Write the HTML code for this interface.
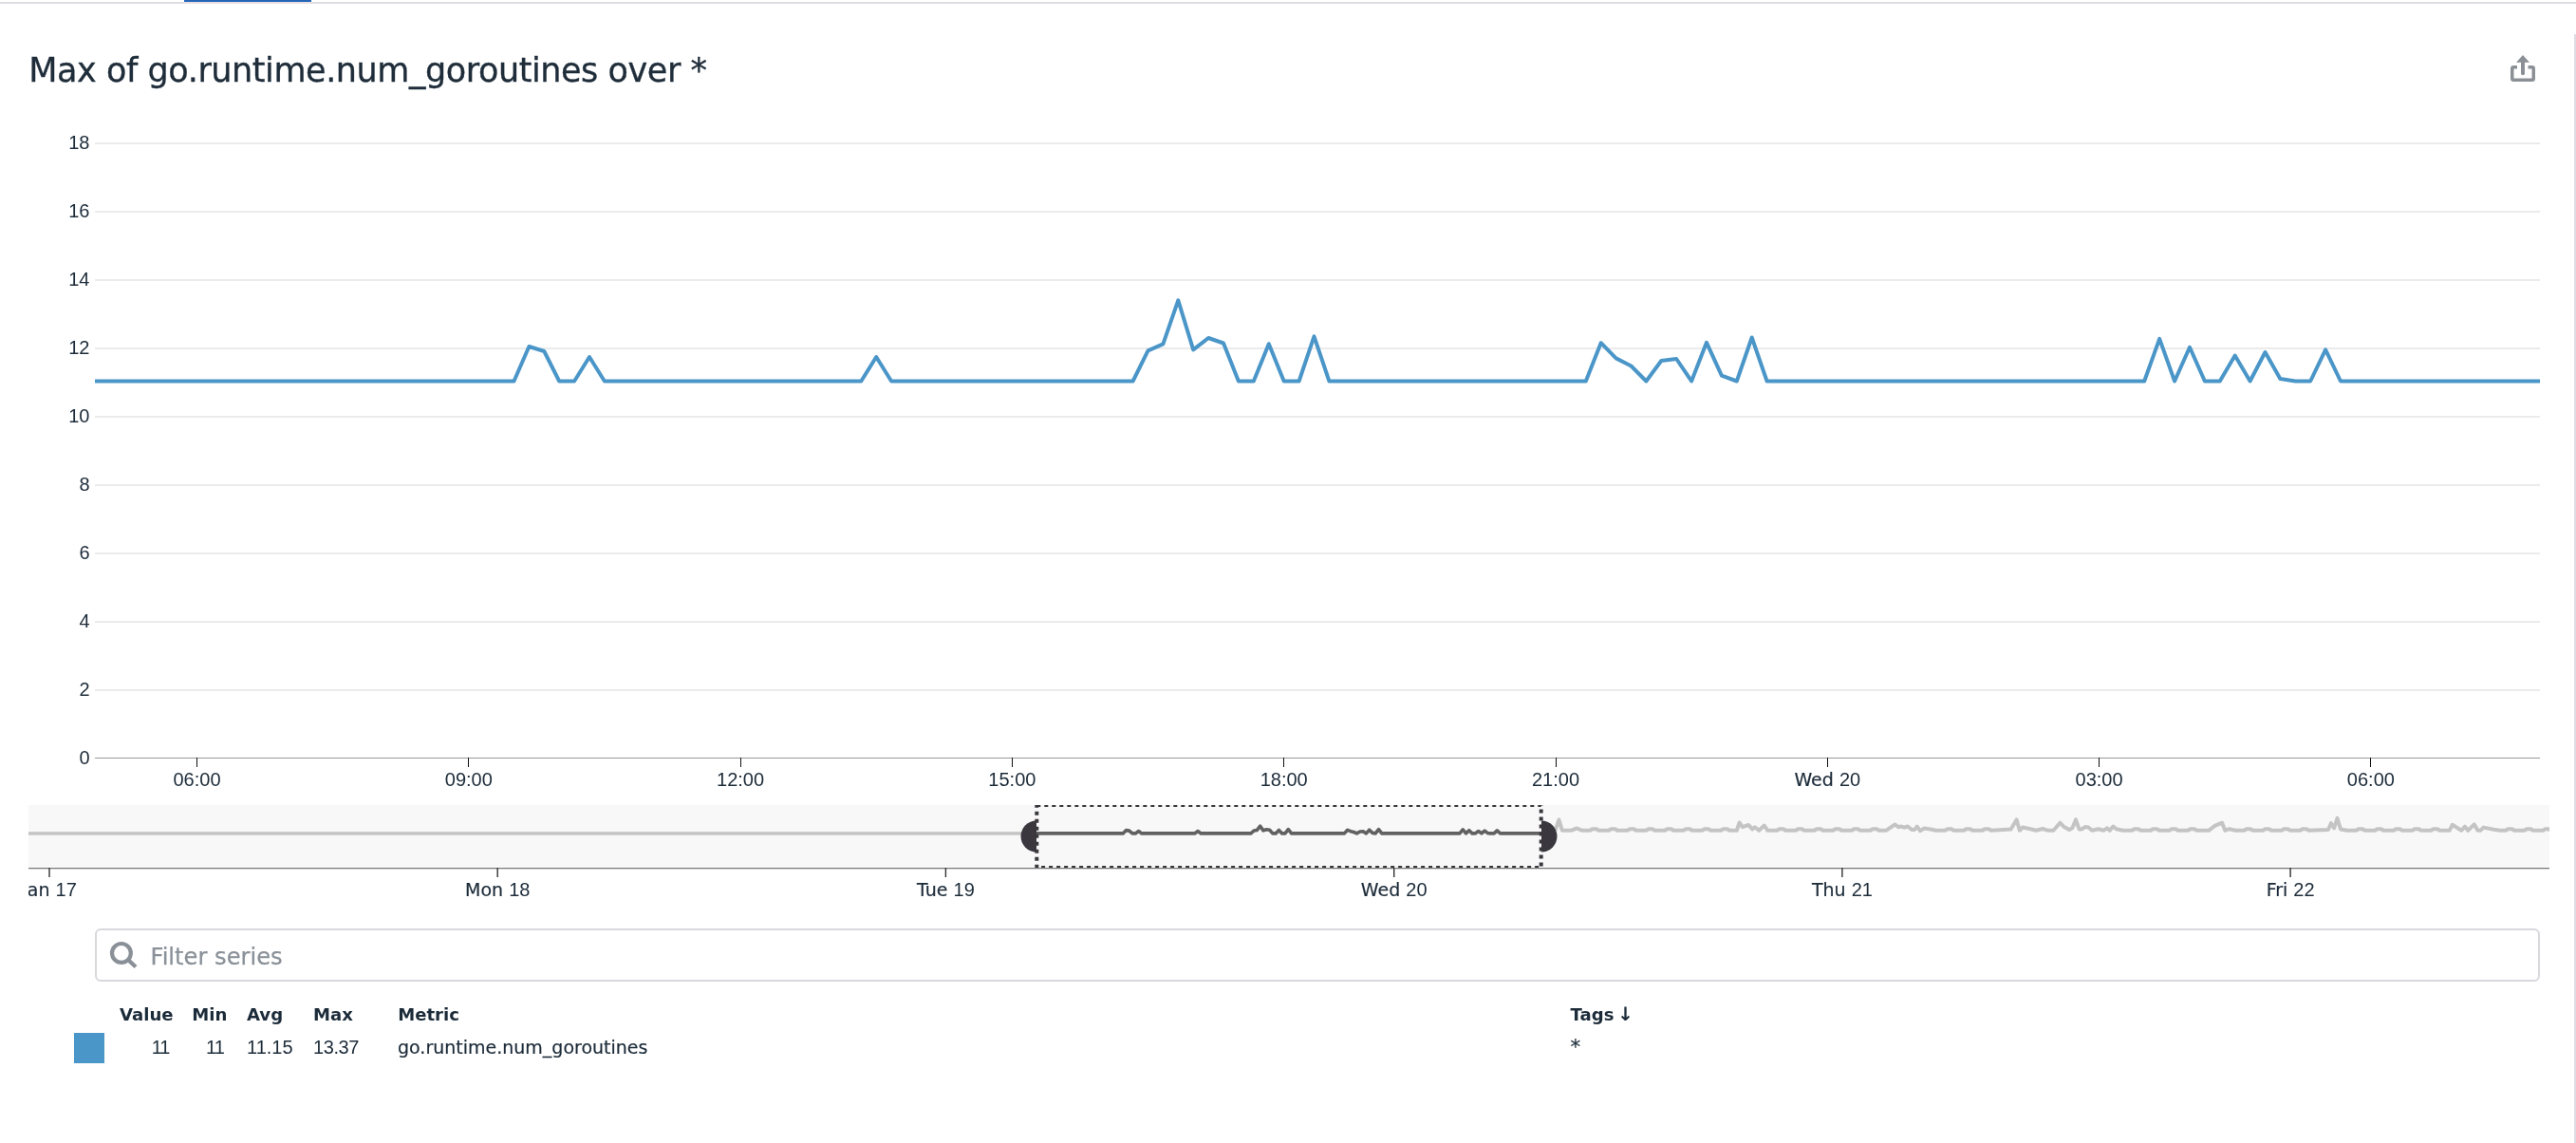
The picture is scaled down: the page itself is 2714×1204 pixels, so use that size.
<!DOCTYPE html>
<html lang="en"><head><meta charset="utf-8"><title>Max of go.runtime.num_goroutines over *</title>
<style>
html,body{margin:0;padding:0;background:#fff;}
body{width:2714px;height:1204px;position:relative;overflow:hidden;font-family:"DejaVu Sans","Liberation Sans",sans-serif;color:#1c2b39;}
#root{position:absolute;left:0;top:0;width:2714px;height:1204px;will-change:transform;}
.abs{position:absolute;white-space:nowrap;}
.topline{left:0;top:2px;width:2714px;height:2px;background:#dfdde3;}
.tab{left:194px;top:0;width:134px;height:2px;background:#2566b8;}
.tabu{left:194px;top:2px;width:134px;height:2px;background:#e8e0e3;}
.rline{left:2712px;top:36px;width:2px;height:1168px;background:#dedde3;}
.title{left:30.3px;top:47.2px;font-size:35px;line-height:54px;letter-spacing:-0.44px;color:#1f2d3a;-webkit-text-stroke:0.35px #1f2d3a;}
.filter{left:100px;top:978px;width:2572px;height:52px;border:2px solid #d8d8dd;border-radius:6px;background:#fff;}
.ph{left:158.5px;top:989.5px;font-size:24.2px;line-height:36px;color:#8a9198;-webkit-text-stroke:0.25px #8a9198;}
.th{font-weight:bold;font-size:18.1px;line-height:28px;top:1055.3px;}
.td{font-size:19px;line-height:28px;top:1089px;-webkit-text-stroke:0.2px #1c2b39;}
.num{font-family:"Liberation Sans",Arial,sans-serif;font-size:20px;-webkit-text-stroke:0;}
.r{text-align:right;}
.sw{left:78px;top:1088px;width:32px;height:32px;background:#4b96c8;}
</style></head><body><div id="root">
<div class="abs topline"></div><div class="abs tab"></div><div class="abs tabu"></div><div class="abs rline"></div>
<div class="abs title">Max of go.runtime.num_goroutines over *</div>
<svg class="abs" style="left:2640px;top:52px" width="40" height="40" viewBox="0 0 40 40" fill="none" stroke="#8b9096">
<path d="M12 18.75 H8.25 a1.5 1.5 0 0 0 -1.5 1.5 V30.75 a1.5 1.5 0 0 0 1.5 1.5 H27.75 a1.5 1.5 0 0 0 1.5 -1.5 V20.25 a1.5 1.5 0 0 0 -1.5 -1.5 H23.5" stroke-width="3.5" stroke-linejoin="round"/>
<path d="M18 25.3 V13" stroke-width="4" stroke-linecap="round"/>
<path d="M18 6 L25 13.8 H11 Z" fill="#8b9096" stroke="none"/>
</svg>
<svg width="2714" height="1204" viewBox="0 0 2714 1204" style="position:absolute;left:0;top:0">
<defs><clipPath id="cm"><rect x="100" y="130" width="2576" height="680"/></clipPath><clipPath id="co"><rect x="30" y="848" width="2656" height="120"/></clipPath><clipPath id="cl"><rect x="1624" y="848" width="1062" height="66"/></clipPath><clipPath id="cb"><rect x="1000" y="848" width="700" height="66"/></clipPath></defs>
<rect x="100" y="150" width="2576" height="2" fill="#ebebec"/>
<rect x="100" y="222" width="2576" height="2" fill="#ebebec"/>
<rect x="100" y="294" width="2576" height="2" fill="#ebebec"/>
<rect x="100" y="366" width="2576" height="2" fill="#ebebec"/>
<rect x="100" y="438" width="2576" height="2" fill="#ebebec"/>
<rect x="100" y="510" width="2576" height="2" fill="#ebebec"/>
<rect x="100" y="582" width="2576" height="2" fill="#ebebec"/>
<rect x="100" y="654" width="2576" height="2" fill="#ebebec"/>
<rect x="100" y="726" width="2576" height="2" fill="#ebebec"/>
<text x="94.5" y="156.5" text-anchor="end" font-family="Liberation Sans, Arial, sans-serif" font-size="20" fill="#1c2b39">18</text>
<text x="94.5" y="228.5" text-anchor="end" font-family="Liberation Sans, Arial, sans-serif" font-size="20" fill="#1c2b39">16</text>
<text x="94.5" y="300.5" text-anchor="end" font-family="Liberation Sans, Arial, sans-serif" font-size="20" fill="#1c2b39">14</text>
<text x="94.5" y="372.5" text-anchor="end" font-family="Liberation Sans, Arial, sans-serif" font-size="20" fill="#1c2b39">12</text>
<text x="94.5" y="444.5" text-anchor="end" font-family="Liberation Sans, Arial, sans-serif" font-size="20" fill="#1c2b39">10</text>
<text x="94.5" y="516.5" text-anchor="end" font-family="Liberation Sans, Arial, sans-serif" font-size="20" fill="#1c2b39">8</text>
<text x="94.5" y="588.5" text-anchor="end" font-family="Liberation Sans, Arial, sans-serif" font-size="20" fill="#1c2b39">6</text>
<text x="94.5" y="660.5" text-anchor="end" font-family="Liberation Sans, Arial, sans-serif" font-size="20" fill="#1c2b39">4</text>
<text x="94.5" y="732.5" text-anchor="end" font-family="Liberation Sans, Arial, sans-serif" font-size="20" fill="#1c2b39">2</text>
<text x="94.5" y="804.5" text-anchor="end" font-family="Liberation Sans, Arial, sans-serif" font-size="20" fill="#1c2b39">0</text>
<rect x="100" y="798" width="2576" height="1" fill="#999"/>
<rect x="207" y="798" width="1" height="10" fill="#111"/>
<text x="207.5" y="828" text-anchor="middle" font-family="Liberation Sans, Arial, sans-serif" font-size="20" fill="#1c2b39">06:00</text>
<rect x="493" y="798" width="1" height="10" fill="#111"/>
<text x="493.8" y="828" text-anchor="middle" font-family="Liberation Sans, Arial, sans-serif" font-size="20" fill="#1c2b39">09:00</text>
<rect x="780" y="798" width="1" height="10" fill="#111"/>
<text x="780.1" y="828" text-anchor="middle" font-family="Liberation Sans, Arial, sans-serif" font-size="20" fill="#1c2b39">12:00</text>
<rect x="1066" y="798" width="1" height="10" fill="#111"/>
<text x="1066.4" y="828" text-anchor="middle" font-family="Liberation Sans, Arial, sans-serif" font-size="20" fill="#1c2b39">15:00</text>
<rect x="1352" y="798" width="1" height="10" fill="#111"/>
<text x="1352.7" y="828" text-anchor="middle" font-family="Liberation Sans, Arial, sans-serif" font-size="20" fill="#1c2b39">18:00</text>
<rect x="1639" y="798" width="1" height="10" fill="#111"/>
<text x="1639.0" y="828" text-anchor="middle" font-family="Liberation Sans, Arial, sans-serif" font-size="20" fill="#1c2b39">21:00</text>
<rect x="1925" y="798" width="1" height="10" fill="#111"/>
<text x="1925.3" y="828" text-anchor="middle" font-family="DejaVu Sans, Liberation Sans, sans-serif" font-size="19" fill="#1c2b39" stroke="#1c2b39" stroke-width="0.2" xml:space="preserve">Wed&#160;<tspan font-family="Liberation Sans, Arial, sans-serif" font-size="20" stroke="none">20</tspan></text>
<rect x="2211" y="798" width="1" height="10" fill="#111"/>
<text x="2211.6" y="828" text-anchor="middle" font-family="Liberation Sans, Arial, sans-serif" font-size="20" fill="#1c2b39">03:00</text>
<rect x="2497" y="798" width="1" height="10" fill="#111"/>
<text x="2497.9" y="828" text-anchor="middle" font-family="Liberation Sans, Arial, sans-serif" font-size="20" fill="#1c2b39">06:00</text>
<path d="M96.2 401.5 L541.5 401.5 L557.4 365.0 L573.3 370.0 L589.2 401.5 L605.1 401.5 L621.0 376.0 L636.9 401.5 L907.3 401.5 L923.2 376.0 L939.1 401.5 L1193.6 401.5 L1209.5 369.3 L1225.4 362.3 L1241.3 316.3 L1257.2 368.4 L1273.1 356.0 L1289.0 361.5 L1304.9 401.5 L1320.8 401.5 L1336.8 362.2 L1352.7 401.5 L1368.6 401.5 L1384.5 354.3 L1400.4 401.5 L1670.8 401.5 L1686.7 361.2 L1702.6 377.4 L1718.5 385.5 L1734.4 401.5 L1750.3 380.0 L1766.2 378.0 L1782.1 401.5 L1798.0 360.8 L1813.9 395.6 L1829.8 401.5 L1845.7 355.5 L1861.6 401.5 L2259.2 401.5 L2275.2 356.8 L2291.1 401.5 L2307.0 365.8 L2322.9 401.5 L2338.8 401.5 L2354.7 374.5 L2370.6 401.5 L2386.5 371.0 L2402.4 399.1 L2418.3 401.5 L2434.2 401.5 L2450.1 368.4 L2466.0 401.5 L2688.7 401.5" fill="none" stroke="#4b96c8" stroke-width="4" stroke-linejoin="round" clip-path="url(#cm)"/>
<rect x="30" y="848" width="2656" height="66" fill="#f8f8f8"/>
<rect x="30" y="876.2" width="1062" height="3.5" fill="#c4c4c4"/>
<path d="M1638.5 874.8 L1642.5 863.5 L1645.8 874.8 L1655.0 874.8 L1661.3 872.5 L1667.0 874.8 L1675.2 874.8 L1677.7 873.2 L1681.9 873.2 L1684.4 874.8 L1694.9 874.8 L1697.4 873.2 L1701.6 873.2 L1704.1 874.8 L1714.6 874.8 L1717.1 873.2 L1721.3 873.2 L1723.8 874.8 L1734.3 874.8 L1736.8 873.2 L1741.0 873.2 L1743.5 874.8 L1754.0 874.8 L1756.5 873.2 L1760.7 873.2 L1763.2 874.8 L1773.6 874.8 L1776.1 873.2 L1780.3 873.2 L1782.8 874.8 L1793.3 874.8 L1795.8 873.2 L1800.0 873.2 L1802.5 874.8 L1813.0 874.8 L1815.5 873.2 L1819.7 873.2 L1822.2 874.8 L1829.8 874.8 L1832.5 866.5 L1835.8 871.2 L1842.3 869.0 L1846.1 873.4 L1848.8 871.2 L1853.2 874.8 L1858.8 869.5 L1862.4 874.8 L1872.1 874.8 L1874.6 873.2 L1878.8 873.2 L1881.3 874.8 L1891.8 874.8 L1894.3 873.2 L1898.5 873.2 L1901.0 874.8 L1911.5 874.8 L1914.0 873.2 L1918.2 873.2 L1920.7 874.8 L1931.1 874.8 L1933.6 873.2 L1937.8 873.2 L1940.3 874.8 L1950.8 874.8 L1953.3 873.2 L1957.5 873.2 L1960.0 874.8 L1970.5 874.8 L1973.0 873.2 L1977.2 873.2 L1979.7 874.8 L1987.1 874.8 L1996.5 868.5 L2000.1 871.2 L2002.8 870.5 L2006.5 871.7 L2009.9 870.5 L2014.2 874.0 L2017.0 874.0 L2019.7 870.7 L2022.9 875.2 L2027.3 872.5 L2034.0 873.5 L2039.8 874.8 L2049.3 874.8 L2051.8 873.2 L2056.0 873.2 L2058.5 874.8 L2069.0 874.8 L2071.5 873.2 L2075.7 873.2 L2078.2 874.8 L2088.6 874.8 L2091.1 873.2 L2095.3 873.2 L2097.8 874.8 L2118.6 873.5 L2124.6 863.4 L2127.8 874.8 L2131.1 871.5 L2138.0 873.0 L2145.4 874.8 L2152.0 873.0 L2158.0 874.8 L2163.4 874.8 L2170.4 866.7 L2174.2 870.7 L2180.2 874.1 L2183.5 872.0 L2187.0 863.4 L2190.5 873.4 L2193.3 873.4 L2197.1 871.0 L2200.3 871.5 L2204.1 874.8 L2210.7 873.3 L2216.6 874.8 L2219.9 872.2 L2222.8 874.8 L2226.4 870.5 L2229.7 873.2 L2236.7 874.8 L2246.2 874.8 L2248.7 873.2 L2252.9 873.2 L2255.4 874.8 L2265.8 874.8 L2268.3 873.2 L2272.5 873.2 L2275.0 874.8 L2285.5 874.8 L2288.0 873.2 L2292.2 873.2 L2294.7 874.8 L2305.2 874.8 L2307.7 873.2 L2311.9 873.2 L2314.4 874.8 L2327.0 874.8 L2333.5 869.8 L2341.1 866.7 L2344.3 874.8 L2348.7 873.2 L2355.2 874.8 L2364.3 874.8 L2366.8 873.2 L2371.0 873.2 L2373.5 874.8 L2384.0 874.8 L2386.5 873.2 L2390.7 873.2 L2393.2 874.8 L2403.7 874.8 L2406.2 873.2 L2410.4 873.2 L2412.9 874.8 L2423.3 874.8 L2425.8 873.2 L2430.0 873.2 L2432.5 874.8 L2452.9 874.0 L2455.9 867.2 L2459.1 872.3 L2462.5 861.8 L2466.0 873.5 L2473.0 874.8 L2482.4 874.8 L2484.9 873.2 L2489.1 873.2 L2491.6 874.8 L2502.1 874.8 L2504.6 873.2 L2508.8 873.2 L2511.3 874.8 L2521.8 874.8 L2524.3 873.2 L2528.5 873.2 L2531.0 874.8 L2541.5 874.8 L2544.0 873.2 L2548.2 873.2 L2550.7 874.8 L2561.2 874.8 L2563.7 873.2 L2567.9 873.2 L2570.4 874.8 L2580.7 874.8 L2583.7 868.8 L2593.2 874.8 L2597.0 870.7 L2600.2 874.8 L2606.7 868.3 L2610.5 874.8 L2613.3 874.8 L2616.5 871.6 L2627.4 873.8 L2633.9 874.8 L2639.9 874.8 L2642.4 873.2 L2646.6 873.2 L2649.1 874.8 L2659.6 874.8 L2662.1 873.2 L2666.3 873.2 L2668.8 874.8 L2679.3 874.8 L2681.8 873.2 L2686.0 873.2 L2686.0 874.0 L2688.5 874.8" fill="none" stroke="#c4c4c4" stroke-width="4" stroke-linejoin="round" clip-path="url(#cl)"/>
<path d="M1091.2 877.9 L1183.2 877.9 L1186.5 874.6 L1189.7 875.1 L1193.0 877.9 L1196.3 877.9 L1199.6 875.6 L1202.9 877.9 L1258.7 877.9 L1262.0 875.6 L1265.3 877.9 L1317.9 877.9 L1321.1 875.0 L1324.4 874.4 L1327.7 870.2 L1331.0 874.9 L1334.3 873.8 L1337.6 874.3 L1340.8 877.9 L1344.1 877.9 L1347.4 874.4 L1350.7 877.9 L1354.0 877.9 L1357.3 873.6 L1360.6 877.9 L1416.4 877.9 L1419.7 874.3 L1423.0 875.7 L1426.3 876.5 L1429.5 877.9 L1432.8 876.0 L1436.1 875.8 L1439.4 877.9 L1442.7 874.2 L1446.0 877.4 L1449.2 877.9 L1452.5 873.7 L1455.8 877.9 L1537.9 877.9 L1541.2 873.9 L1544.5 877.9 L1547.8 874.7 L1551.1 877.9 L1554.4 877.9 L1557.6 875.5 L1560.9 877.9 L1564.2 875.1 L1567.5 877.7 L1570.8 877.9 L1574.1 877.9 L1577.3 874.9 L1580.6 877.9 L1626.6 877.9" fill="none" stroke="#616161" stroke-width="3.6" stroke-linejoin="round"/>
<path d="M1092 864.5 A16.5 16.5 0 0 0 1092 897.5 Z" fill="#3a383e"/>
<path d="M1624 864.5 A16.5 16.5 0 0 1 1624 897.5 Z" fill="#3a383e"/>
<rect x="1092.3" y="848" width="531.4" height="66" fill="none" stroke="#39373c" stroke-width="4" stroke-dasharray="4 4" clip-path="url(#cb)"/>
<rect x="30" y="914" width="2656" height="1.3" fill="#7a7a7a"/>
<g clip-path="url(#co)">
<rect x="51.3" y="914" width="1.4" height="10" fill="#333"/>
<text x="52.0" y="944" text-anchor="middle" font-family="DejaVu Sans, Liberation Sans, sans-serif" font-size="19" fill="#1c2b39" stroke="#1c2b39" stroke-width="0.2" xml:space="preserve">Jan&#160;<tspan font-family="Liberation Sans, Arial, sans-serif" font-size="20" stroke="none">17</tspan></text>
<rect x="523.5" y="914" width="1.4" height="10" fill="#333"/>
<text x="524.2" y="944" text-anchor="middle" font-family="DejaVu Sans, Liberation Sans, sans-serif" font-size="19" fill="#1c2b39" stroke="#1c2b39" stroke-width="0.2" xml:space="preserve">Mon&#160;<tspan font-family="Liberation Sans, Arial, sans-serif" font-size="20" stroke="none">18</tspan></text>
<rect x="995.7" y="914" width="1.4" height="10" fill="#333"/>
<text x="996.4" y="944" text-anchor="middle" font-family="DejaVu Sans, Liberation Sans, sans-serif" font-size="19" fill="#1c2b39" stroke="#1c2b39" stroke-width="0.2" xml:space="preserve">Tue&#160;<tspan font-family="Liberation Sans, Arial, sans-serif" font-size="20" stroke="none">19</tspan></text>
<rect x="1468.0" y="914" width="1.4" height="10" fill="#333"/>
<text x="1468.7" y="944" text-anchor="middle" font-family="DejaVu Sans, Liberation Sans, sans-serif" font-size="19" fill="#1c2b39" stroke="#1c2b39" stroke-width="0.2" xml:space="preserve">Wed&#160;<tspan font-family="Liberation Sans, Arial, sans-serif" font-size="20" stroke="none">20</tspan></text>
<rect x="1940.2" y="914" width="1.4" height="10" fill="#333"/>
<text x="1940.9" y="944" text-anchor="middle" font-family="DejaVu Sans, Liberation Sans, sans-serif" font-size="19" fill="#1c2b39" stroke="#1c2b39" stroke-width="0.2" xml:space="preserve">Thu&#160;<tspan font-family="Liberation Sans, Arial, sans-serif" font-size="20" stroke="none">21</tspan></text>
<rect x="2412.4" y="914" width="1.4" height="10" fill="#333"/>
<text x="2413.1" y="944" text-anchor="middle" font-family="DejaVu Sans, Liberation Sans, sans-serif" font-size="19" fill="#1c2b39" stroke="#1c2b39" stroke-width="0.2" xml:space="preserve">Fri&#160;<tspan font-family="Liberation Sans, Arial, sans-serif" font-size="20" stroke="none">22</tspan></text>
</g>
</svg>
<div class="abs filter"></div>
<svg class="abs" style="left:112px;top:988px" width="36" height="36" viewBox="0 0 36 36" fill="none" stroke="#8a9097" stroke-width="4.2">
<circle cx="15.9" cy="15.9" r="9.9"/><path d="M23 23 L31 30.6" stroke-linecap="butt"/>
</svg>
<div class="abs ph">Filter series</div>
<div class="abs th" style="left:126px">Value</div>
<div class="abs th" style="left:202.2px">Min</div>
<div class="abs th" style="left:260px">Avg</div>
<div class="abs th" style="left:330px">Max</div>
<div class="abs th" style="left:419.2px">Metric</div>
<div class="abs th" style="left:1654.6px">Tags <span style="position:relative;left:-2.6px;top:-0.5px;font-size:20px;line-height:0">↓</span></div>
<div class="abs sw"></div>
<div class="abs td num r" style="left:120px;width:58.5px;letter-spacing:-1px">11</div>
<div class="abs td num r" style="left:180px;width:55.8px;letter-spacing:-1px">11</div>
<div class="abs td num" style="left:260px">11.15</div>
<div class="abs td num" style="left:330px;letter-spacing:-0.4px">13.37</div>
<div class="abs td" style="left:419px">go.runtime.num_goroutines</div>
<div class="abs td" style="left:1654.6px;top:1089.3px;font-size:21.5px">*</div>
</div></body></html>
